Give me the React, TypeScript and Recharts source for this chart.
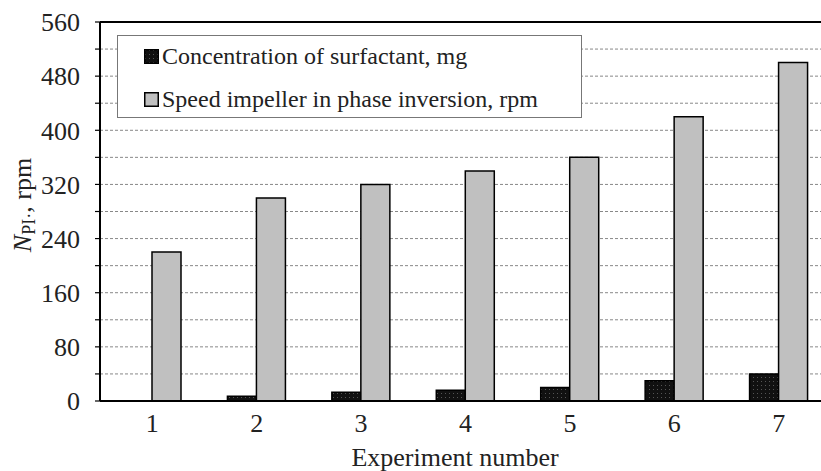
import { BarChart, Bar, XAxis, YAxis, CartesianGrid, ReferenceLine } from 'recharts'

const experiments = ['1', '2', '3', '4', '5', '6', '7']
const surfactant = [0, 7, 13, 16, 20, 30, 40]
const impellerSpeed = [220, 300, 320, 340, 360, 420, 500]
const yTicks = [0, 40, 80, 120, 160, 200, 240, 280, 320, 360, 400, 440, 480, 520, 560]
const boundaryTicks = [0, 1, 2, 3, 4, 5, 6, 7]

const legendItems = [
  { label: 'Concentration of surfactant, mg', fill: 'url(#dots)' },
  { label: 'Speed impeller in phase inversion, rpm', fill: '#c0c0c0' },
]

const data = experiments.map((name, i) => ({
  name,
  surfactant: surfactant[i],
  speed: impellerSpeed[i],
}))

const font = '"Liberation Serif", "Times New Roman", serif'

export default function App() {
  return (
    <div style={{ position: 'fixed', left: 0, top: 0, width: 821, height: 471, overflow: 'hidden', background: '#fff', fontFamily: font }}>
      <svg width={0} height={0} style={{ position: 'absolute' }}>
        <defs>
          <pattern id="dots" width={4} height={4} patternUnits="userSpaceOnUse">
            <rect width={4} height={4} fill="#111" />
            <rect x={1} y={1} width={1} height={1} fill="#555" />
          </pattern>
        </defs>
      </svg>
      <BarChart
        width={840}
        height={471}
        data={data}
        margin={{ top: 22, right: 9, bottom: 40, left: 0 }}
        barGap={0}
        barSize={29}
      >
        <CartesianGrid vertical={false} stroke="#888" strokeDasharray="3 2" />
        <XAxis
          xAxisId="edges"
          type="number"
          domain={[0, 7]}
          ticks={boundaryTicks}
          tick={false}
          tickSize={5}
          tickLine={{ stroke: '#000', strokeWidth: 1.2 }}
          axisLine={false}
          height={0}
        />
        <XAxis
          dataKey="name"
          height={30}
          tickLine={false}
          tickSize={0}
          tickMargin={13}
          axisLine={{ stroke: '#000', strokeWidth: 2 }}
          tick={{ fill: '#222', fontSize: 26, fontFamily: font }}
        />
        <YAxis
          domain={[0, 560]}
          ticks={yTicks}
          interval={0}
          width={100}
          tickSize={5}
          tickMargin={15}
          tickFormatter={(v: number) => (v % 80 === 0 ? String(v) : '')}
          tickLine={{ stroke: '#000', strokeWidth: 1.2 }}
          axisLine={{ stroke: '#000', strokeWidth: 2 }}
          tick={{ fill: '#222', fontSize: 26, fontFamily: font }}
        />
        <ReferenceLine y={560} stroke="#000" strokeWidth={2} />
        <Bar dataKey="surfactant" fill="url(#dots)" stroke="#000" strokeWidth={1.5} isAnimationActive={false} />
        <Bar dataKey="speed" fill="#c0c0c0" stroke="#000" strokeWidth={1.5} isAnimationActive={false} />
        <text
          transform="translate(31, 205) rotate(-90)"
          textAnchor="middle"
          fontSize={26}
          fontFamily={font}
          fill="#222"
        >
          <tspan fontStyle="italic">N</tspan>
          <tspan fontSize={18} dy={4}>PI</tspan>
          <tspan fontSize={18}>·</tspan>
          <tspan dy={-4}>, rpm</tspan>
        </text>
        <text x={455} y={466} textAnchor="middle" fontSize={26} fontFamily={font} fill="#222">
          Experiment number
        </text>
      </BarChart>
      <div
        style={{
          position: 'absolute',
          left: 117,
          top: 35,
          width: 465,
          height: 83,
          background: '#fff',
          border: '1px solid #777',
          boxSizing: 'border-box',
        }}
      >
        {legendItems.map((it, i) => (
          <div
            key={it.label}
            style={{ position: 'absolute', left: 26, top: i === 0 ? 7 : 50, display: 'flex', alignItems: 'center', fontSize: 24, color: '#222', whiteSpace: 'nowrap' }}
          >
            <svg width={15} height={15} style={{ marginRight: 3 }}>
              <rect x={0.75} y={0.75} width={13.5} height={13.5} fill={it.fill} stroke="#000" strokeWidth={1.5} />
            </svg>
            <span>{it.label}</span>
          </div>
        ))}
      </div>
    </div>
  )
}
